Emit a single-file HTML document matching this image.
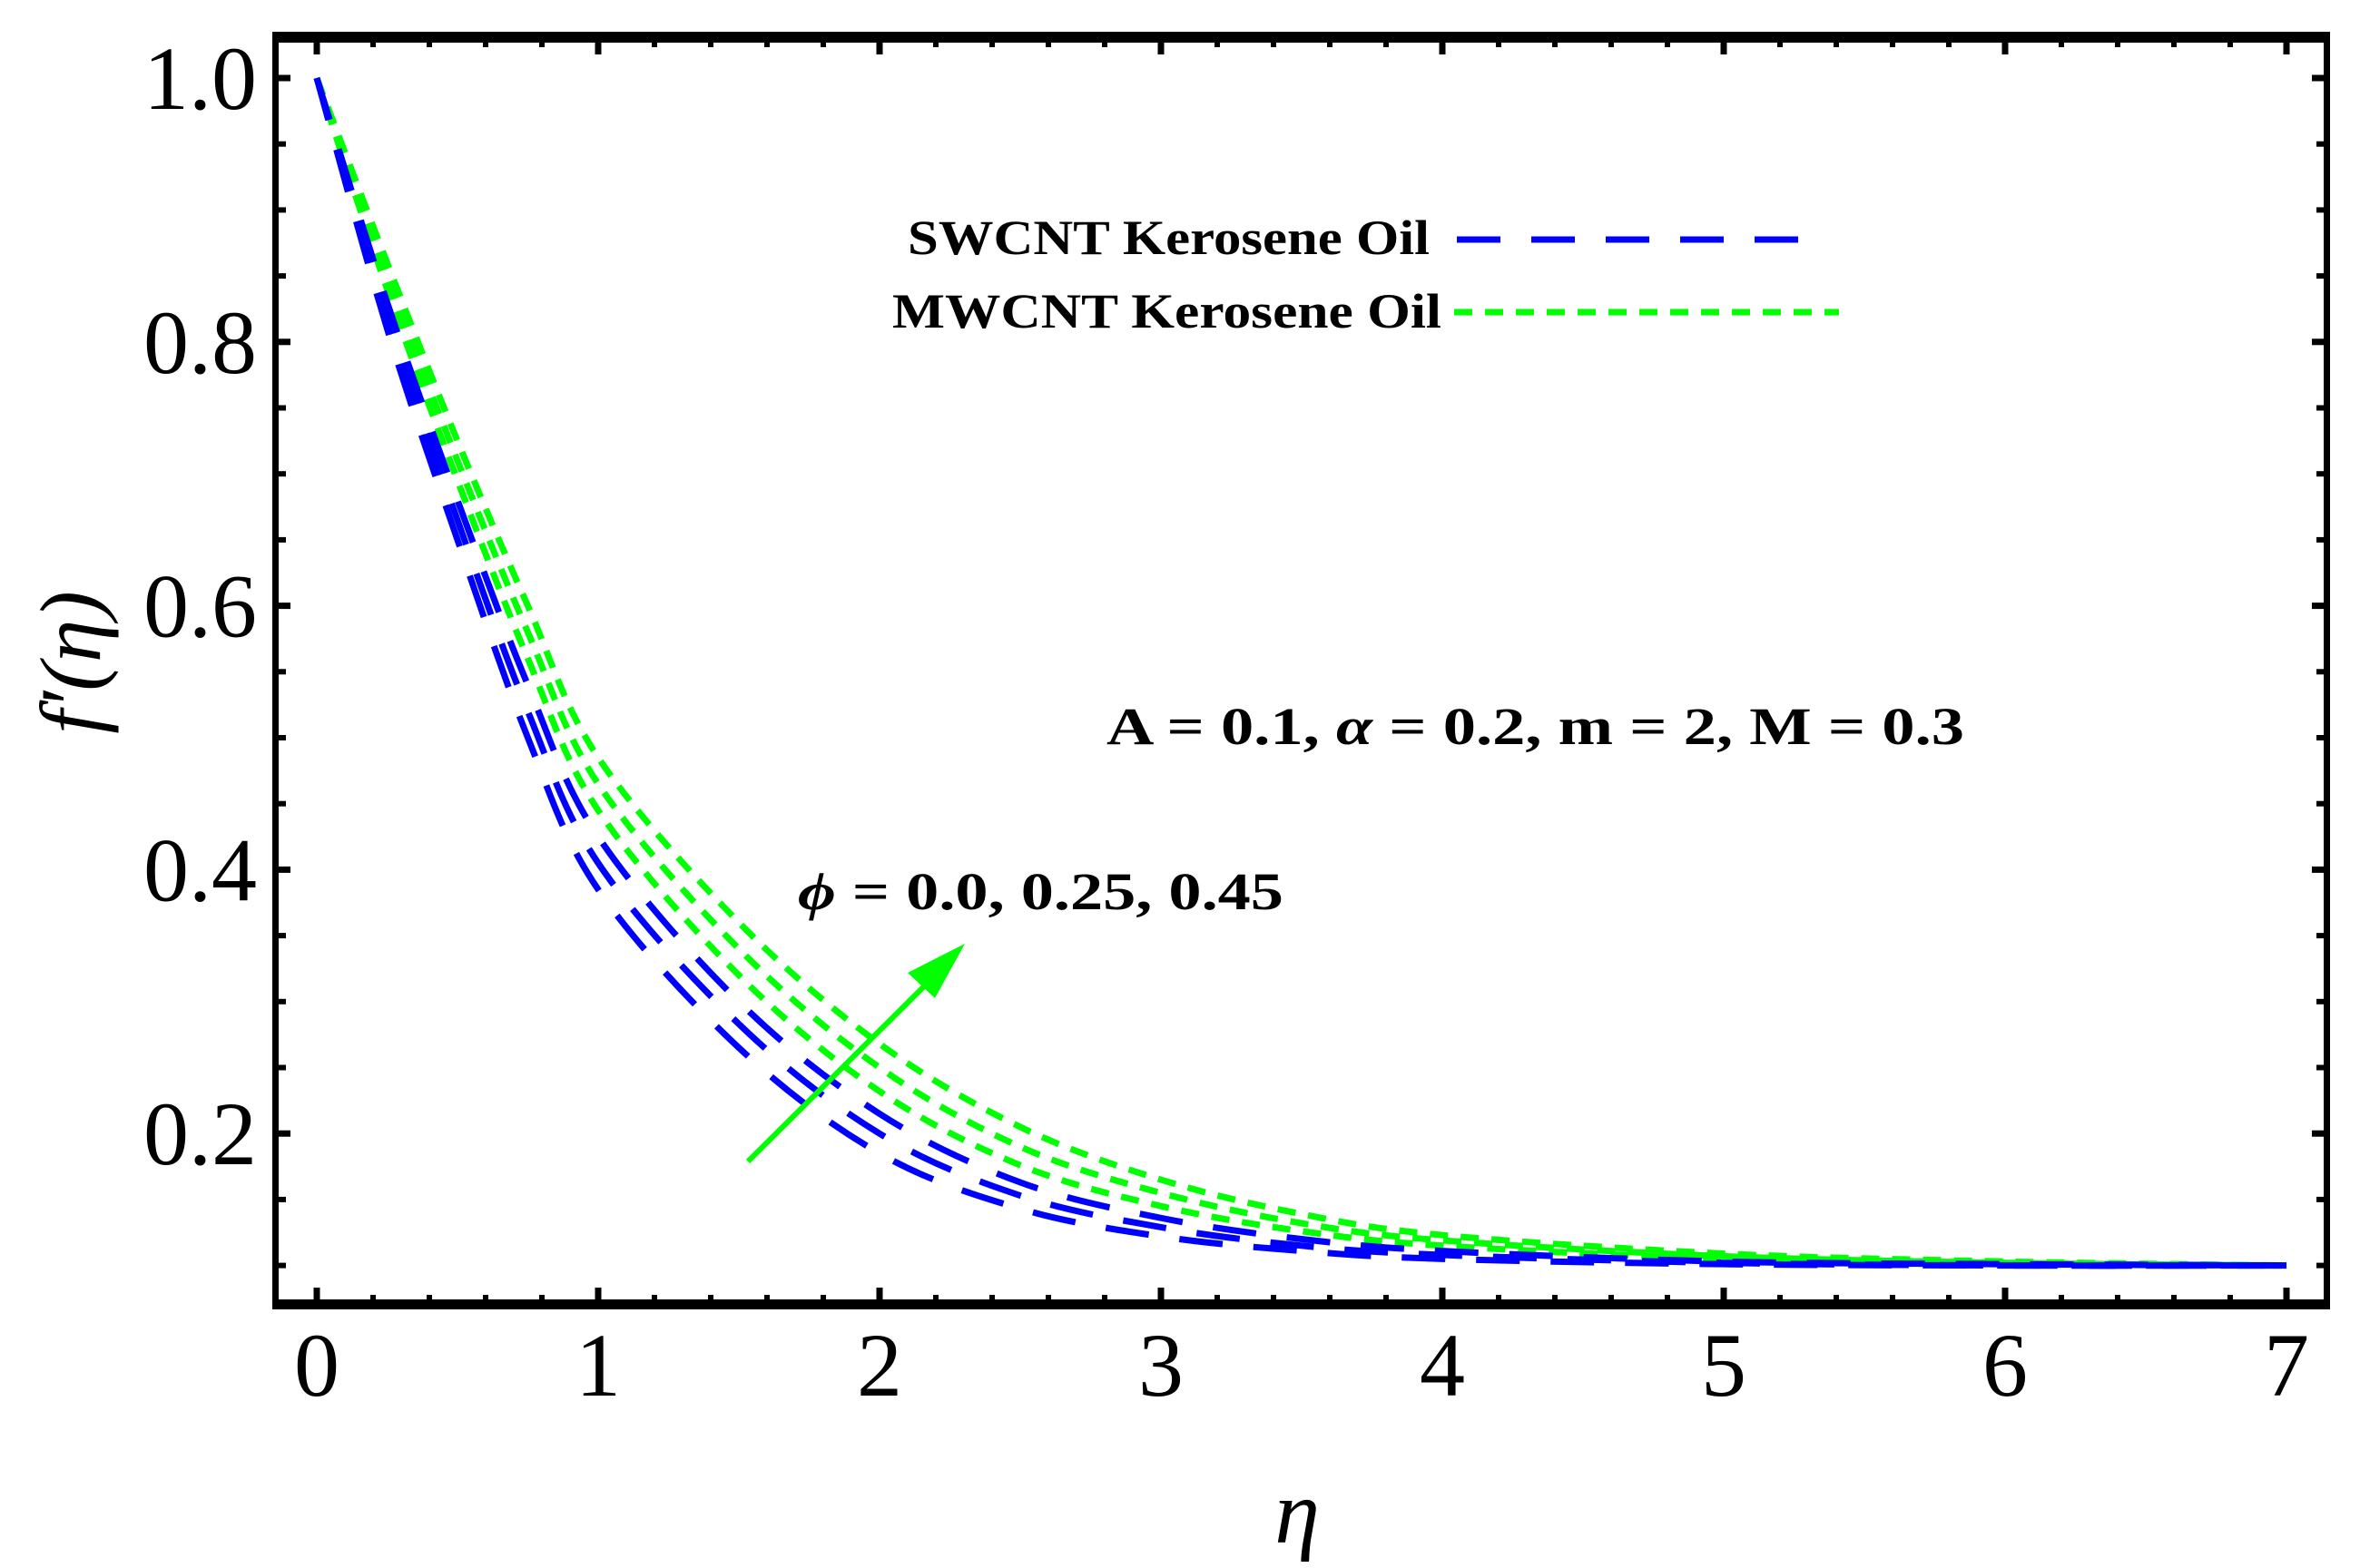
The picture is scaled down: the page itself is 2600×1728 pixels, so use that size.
<!DOCTYPE html>
<html><head><meta charset="utf-8"><style>
html,body{margin:0;padding:0;background:#fff;}
svg{display:block;}
text{font-family:"Liberation Serif",serif;}
</style></head><body>
<svg id="chart" width="2600" height="1728" viewBox="0 0 2600 1728" xmlns="http://www.w3.org/2000/svg">
<rect x="0" y="0" width="2600" height="1728" fill="#fff"/>
<g id="ticks"></g>
<g id="series"></g>
<g id="frame">
<rect x="300" y="35" width="2267" height="12" fill="#000"/>
<rect x="300" y="1432" width="2267" height="11" fill="#000"/>
<rect x="300" y="35" width="7" height="1408" fill="#000"/>
<rect x="2560" y="35" width="7" height="1408" fill="#000"/>
</g>
<g id="labels"></g>
<text x="1429" y="1700" font-size="100" font-style="italic" text-anchor="middle">η</text>
<text transform="translate(110,730) rotate(-90)" font-size="95" font-style="italic" text-anchor="middle">f′(η)</text>
<g>
<text x="1000" y="280" font-size="54" font-weight="bold" textLength="575" lengthAdjust="spacingAndGlyphs">SWCNT Kerosene Oil</text>
<line x1="1605" y1="264" x2="2015" y2="264" stroke="#0000ff" stroke-width="7" stroke-dasharray="48,34"/>
<text x="983" y="361" font-size="54" font-weight="bold" textLength="605" lengthAdjust="spacingAndGlyphs">MWCNT Kerosene Oil</text>
<line x1="1602" y1="344" x2="2026" y2="344" stroke="#00ff00" stroke-width="7" stroke-dasharray="20,14"/>
</g>
<text x="1219" y="820" font-size="58" font-weight="bold" textLength="945" lengthAdjust="spacingAndGlyphs">A = 0.1, <tspan font-style="italic">α</tspan> = 0.2, m = 2, M = 0.3</text>
<text x="879" y="1002" font-size="58" font-weight="bold" textLength="535" lengthAdjust="spacingAndGlyphs"><tspan font-style="italic">ϕ</tspan> = 0.0, 0.25, 0.45</text>
<g>
<line x1="824" y1="1280" x2="1020" y2="1085" stroke="#00ff00" stroke-width="6"/>
<polygon points="1063,1040 1000,1072 1030,1100" fill="#00ff00"/>
</g>
</svg>
<script>
const etaGrid = [0,0.25,0.5,0.75,1,1.5,2,2.5,3,3.5,4,5,6,7];
const swcnt0 = [1,0.81,0.65,0.50,0.385,0.265,0.185,0.143,0.122,0.111,0.105,0.101,0.100,0.100];
const swcnt25 = [1,0.82,0.665,0.52,0.405,0.283,0.200,0.153,0.129,0.115,0.108,0.102,0.100,0.100];
const swcnt45 = [1,0.83,0.68,0.54,0.425,0.30,0.215,0.163,0.136,0.120,0.111,0.103,0.101,0.100];
const mwcnt0 = [1,0.84,0.695,0.56,0.445,0.32,0.232,0.176,0.145,0.126,0.115,0.105,0.101,0.100];
const mwcnt25 = [1,0.85,0.71,0.58,0.465,0.34,0.25,0.19,0.155,0.132,0.119,0.107,0.102,0.100];
const mwcnt45 = [1,0.86,0.725,0.60,0.485,0.36,0.268,0.205,0.165,0.139,0.123,0.109,0.103,0.100];
const xTickLabels = ["0","1","2","3","4","5","6","7"];
const yTickLabels = ["0.2","0.4","0.6","0.8","1.0"];

const NS = "http://www.w3.org/2000/svg";
function sx(v){ return 349 + v*310; }
function sy(v){ return 86 + (1-v)*1454; }

const ticks = document.getElementById('ticks');
function tick(x1,y1,x2,y2,w,name){
  const l = document.createElementNS(NS,'line');
  l.setAttribute('x1',x1); l.setAttribute('y1',y1); l.setAttribute('x2',x2); l.setAttribute('y2',y2);
  l.setAttribute('stroke','#000'); l.setAttribute('stroke-width',w);
  
  
  ticks.appendChild(l);
}
for(let i=0;i<=35;i++){
  const v=i*0.2, major=(i%5===0), x=sx(v), len=major?13:5;
  tick(x,1432,x,1432-len,major?7:6,'x-tick');
  tick(x,47,x,47+len,major?7:6,'x-tick-top');
}
for(let i=0;i<=18;i++){
  const v=0.1+i*0.05; const major=(Math.round(v*100)%20===0); const y=sy(v); const len=major?13:8;
  tick(307,y,307+len,y,major?7:6,'y-tick');
  tick(2560,y,2560-len,y,major?7:6,'y-tick-right');
}
const labels=document.getElementById('labels');
xTickLabels.forEach(function(s){
  const t=document.createElementNS(NS,'text');
  t.setAttribute('x',sx(parseFloat(s))); t.setAttribute('y',1538);
  t.setAttribute('font-size','100'); t.setAttribute('text-anchor','middle');
  t.textContent=s;
  
  
  labels.appendChild(t);
});
yTickLabels.forEach(function(s){
  const t=document.createElementNS(NS,'text');
  t.setAttribute('x',283); t.setAttribute('y',sy(parseFloat(s))+34);
  t.setAttribute('font-size','100'); t.setAttribute('text-anchor','end');
  t.textContent=s;
  
  
  labels.appendChild(t);
});

function pathFor(vals){
  const pts=etaGrid.map(function(e,i){return [sx(e),sy(vals[i])];});
  let d='M'+pts[0][0]+','+pts[0][1];
  for(let i=0;i<pts.length-1;i++){
    const p0=pts[Math.max(0,i-1)],p1=pts[i],p2=pts[i+1],p3=pts[Math.min(pts.length-1,i+2)];
    const c1x=p1[0]+(p2[0]-p0[0])/6,c1y=p1[1]+(p2[1]-p0[1])/6;
    const c2x=p2[0]-(p3[0]-p1[0])/6,c2y=p2[1]-(p3[1]-p1[1])/6;
    d+=' C'+c1x+','+c1y+' '+c2x+','+c2y+' '+p2[0]+','+p2[1];
  }
  return d;
}
const series=document.getElementById('series');
const defs=[[mwcnt0,'#00ff00','20,14','mwcnt-phi-0'],[mwcnt25,'#00ff00','20,14','mwcnt-phi-025'],[mwcnt45,'#00ff00','20,14','mwcnt-phi-045'],
            [swcnt0,'#0000ff','48,34','swcnt-phi-0'],[swcnt25,'#0000ff','48,34','swcnt-phi-025'],[swcnt45,'#0000ff','48,34','swcnt-phi-045']];
defs.forEach(function(s){
  const p=document.createElementNS(NS,'path');
  p.setAttribute('d',pathFor(s[0])); p.setAttribute('fill','none');
  p.setAttribute('stroke',s[1]); p.setAttribute('stroke-width','7'); p.setAttribute('stroke-dasharray',s[2]);
  
  
  series.appendChild(p);
});
</script>
</body></html>
